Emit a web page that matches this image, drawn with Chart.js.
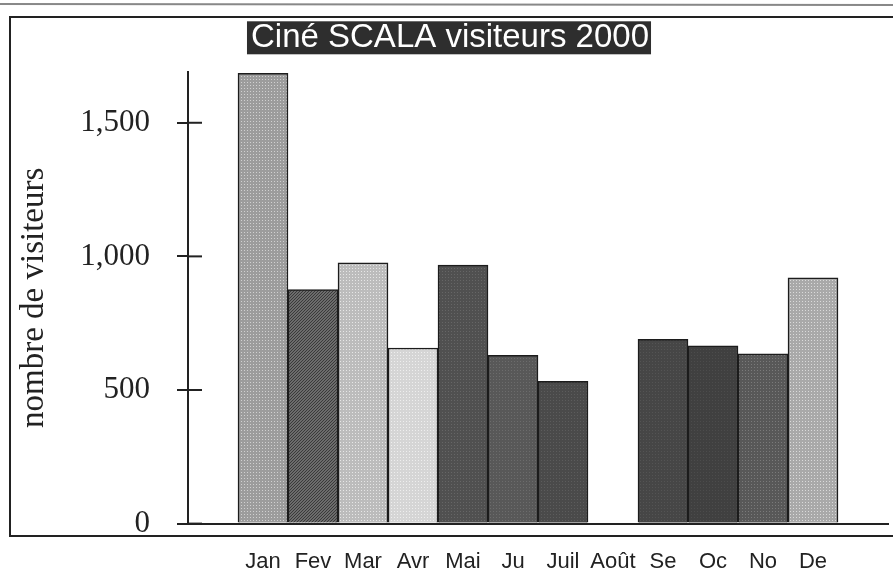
<!DOCTYPE html>
<html><head><meta charset="utf-8">
<script src="https://cdn.jsdelivr.net/npm/chart.js@4/dist/chart.umd.min.js"></script>
<style>html,body{margin:0;padding:0;background:#fff;} canvas{display:block;}</style>
</head><body>
<canvas id="c" width="893" height="575"></canvas>
<script>
const TITLE = 'Ciné SCALA visiteurs 2000';
const Y_TITLE = 'nombre de visiteurs';
const months = ['Jan','Fev','Mar','Avr','Mai','Ju','Juil','Août','Se','Oc','No','De'];
const visitors = [1685, 876, 976, 657, 967, 630, 532, 0, 690, 665, 635, 920];
const yTicks = [0, 500, 1000, 1500];
const barBase = ['#9c9c9c','#6c6c6c','#bcbcbc','#d5d5d5','#505050','#585858','#4a4a4a','#4a4a4a','#464646','#404040','#585858','#a9a9a9'];
const barDot  = ['#d0d0d0','#3a3a3a','#e6e6e6','#eeeeee','#666666','#6c6c6c','#5c5c5c','#5c5c5c','#545454','#4c4c4c','#7a7a7a','#dadada'];

function makePattern(base, dot, hatch) {
  const c = document.createElement('canvas');
  c.width = 3; c.height = 3;
  const g = c.getContext('2d');
  g.fillStyle = base; g.fillRect(0, 0, 3, 3);
  g.fillStyle = dot;
  if (hatch) { g.fillRect(0, 2, 1, 1); g.fillRect(1, 1, 1, 1); g.fillRect(2, 0, 1, 1); }
  else { g.fillRect(1, 1, 1, 1); }
  return g.createPattern(c, 'repeat');
}
const fills = barBase.map((b, i) => makePattern(b, barDot[i], i === 1));

const decor = {
  id: 'decor',
  beforeDraw(chart) {
    const ctx = chart.ctx;
    ctx.save();
    ctx.fillStyle = '#fff';
    ctx.fillRect(0, 0, chart.width, chart.height);
    ctx.strokeStyle = '#888'; ctx.lineWidth = 2;
    ctx.beginPath(); ctx.moveTo(0, 4); ctx.lineTo(chart.width, 5); ctx.stroke();
    ctx.strokeStyle = '#222'; ctx.lineWidth = 2;
    ctx.strokeRect(10, 17, 900, 519);
    const t = chart.titleBlock;
    ctx.font = '33px "Liberation Sans", Arial, sans-serif';
    const w = ctx.measureText(TITLE).width;
    const cx = (t.left + t.right) / 2;
    const cy = t.top + 18 + 33 * 1.2 / 2;
    ctx.fillStyle = '#2e2e2e';
    ctx.fillRect(cx - w / 2 - 4, cy - 16.5, w + 6, 33);
    ctx.restore();
  },
  afterDraw(chart) {
    const ctx = chart.ctx, y = chart.scales.y, x0 = chart.chartArea.left;
    ctx.save();
    ctx.strokeStyle = '#222'; ctx.lineWidth = 2;
    yTicks.forEach(v => {
      const py = y.getPixelForValue(v);
      ctx.beginPath(); ctx.moveTo(x0, py); ctx.lineTo(x0 + 14, py); ctx.stroke();
    });
    ctx.restore();
  }
};

new Chart(document.getElementById('c'), {
  type: 'bar',
  data: {
    datasets: [{
      data: visitors.map((v, i) => ({ x: i + 1.5, y: v })),
      backgroundColor: fills,
      borderColor: '#1c1c1c',
      borderWidth: 1.5,
      borderSkipped: 'start',
      barPercentage: 1,
      categoryPercentage: 1
    }]
  },
  options: {
    responsive: false,
    animation: false,
    layout: { padding: { left: 12, right: 5, top: 0, bottom: -25 } },
    plugins: {
      legend: { display: false },
      tooltip: { enabled: false },
      title: {
        display: true, text: TITLE, color: '#ffffff',
        font: { family: '"Liberation Sans", Arial, sans-serif', size: 33, weight: 'normal', lineHeight: 1.2 },
        padding: { top: 18, bottom: 14.4 }
      }
    },
    scales: {
      x: {
        type: 'linear', min: 0, max: 14, offset: false,
        grid: { display: false, drawTicks: false, offset: false },
        border: { display: true, color: '#222', width: 2 },
        afterBuildTicks: s => { s.ticks = months.map((m, i) => ({ value: i + 1.5 })); },
        ticks: {
          autoSkip: false, maxRotation: 0, padding: 25, color: '#222',
          font: { family: '"Liberation Sans", Arial, sans-serif', size: 22 },
          callback: (v, i) => months[i]
        }
      },
      y: {
        min: 0, max: 1690,
        afterBuildTicks: s => { s.ticks = yTicks.map(v => ({ value: v })); },
        afterFit: s => { s.width = 176; },
        grid: { drawOnChartArea: false, drawTicks: true, tickLength: 11, color: '#222', lineWidth: 2 },
        border: { display: true, color: '#222', width: 2 },
        ticks: {
          padding: 27, color: '#222',
          font: { family: '"Liberation Serif", "Times New Roman", serif', size: 31 },
          callback: v => v.toLocaleString('en-US')
        },
        title: {
          display: true, text: Y_TITLE, color: '#222',
          font: { family: '"Liberation Serif", "Times New Roman", serif', size: 33 },
          padding: { top: 3, bottom: 0 }
        }
      }
    }
  },
  plugins: [decor]
});
</script>
</body></html>
